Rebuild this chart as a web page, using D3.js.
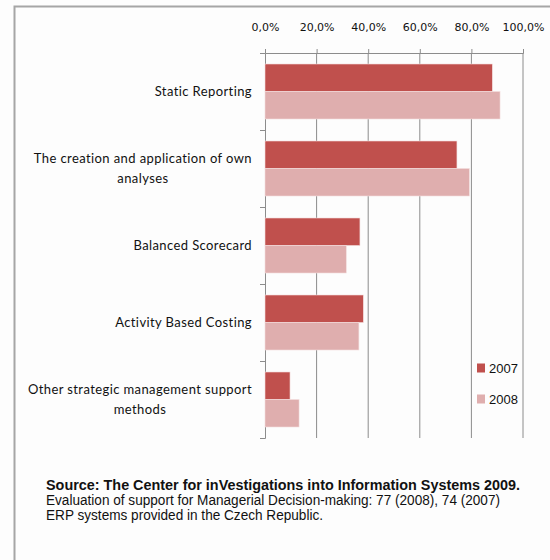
<!DOCTYPE html>
<html lang="en">
<head>
  <meta charset="UTF-8">
  <title>Support for Managerial Decision-making</title>
  <script src="https://d3js.org/d3.v7.min.js"></script>
  <style type="text/css">
    body { margin: 0; background: #fdfdfd; }
    text { font-family: Lato, "Open Sans", sans-serif; fill: #111; }
    .tick text { font-family: "DejaVu Sans", sans-serif; font-size: 11px; }
    .foot text { font-family: "Liberation Sans", Arial, sans-serif; }
  </style>
</head>
<body>
<div id="chart"></div>
<script>
// data
const categories = [
  ["Static Reporting"],
  ["The creation and application of own", "analyses"],
  ["Balanced Scorecard"],
  ["Activity Based Costing"],
  ["Other strategic management  support", "methods"]
];
const series = ["2007", "2008"];
const values2007 = [88.1, 74.4, 36.8, 38.1, 9.7];
const values2008 = [91.1, 79.2, 31.5, 36.4, 13.2];
const tickValues = [0, 20, 40, 60, 80, 100];
const footer = [
  "Source: The Center for inVestigations into Information Systems 2009.",
  "Evaluation of support for Managerial Decision-making: 77 (2008), 74 (2007)",
  "ERP systems provided in the Czech  Republic."
];

const colors = ["#c0504d", "#dfaeae"];

const svg = d3.select("#chart")
  .append("svg")
  .attr("width", 550)
  .attr("height", 560);

// frame
svg.append("path")
  .attr("d", "M14.5,560 V6.5 H550")
  .attr("fill", "none")
  .attr("stroke", "#a6a6a6")
  .attr("stroke-width", 2);

var xScale = d3.scaleLinear().domain([0, 100]).range([265, 523]);

var yScale = d3.scaleBand()
  .domain(d3.range(categories.length))
  .range([53, 438]);

var inner = d3.scaleBand()
  .domain(series)
  .range([0, yScale.bandwidth()])
  .paddingOuter(0.4)
  .paddingInner(0);

// grid lines
svg.append("g")
  .selectAll("line")
  .data(tickValues.slice(1))
  .enter()
  .append("line")
  .attr("x1", d => xScale(d)).attr("x2", d => xScale(d))
  .attr("y1", 53).attr("y2", 438)
  .attr("stroke", "#8c8c8c");

// x axis on top
const xAxis = d3.axisTop(xScale)
  .tickValues(tickValues)
  .tickSize(4)
  .tickPadding(18)
  .tickFormat(d => d3.format(".1f")(d).replace(".", ",") + "%");

svg.append("g")
  .attr("transform", "translate(0,53)")
  .call(xAxis)
  .call(g => g.select(".domain").attr("stroke", "#8c8c8c"))
  .call(g => g.selectAll(".tick line").attr("stroke", "#8c8c8c"))
  .call(g => g.selectAll(".tick text").attr("fill", "#111"));

// y axis line and category ticks
const yAxis = d3.axisLeft(d3.scaleLinear().domain([0, categories.length]).range([53, 438]))
  .ticks(categories.length)
  .tickSize(5)
  .tickFormat("");

svg.append("g")
  .attr("transform", "translate(265,0)")
  .call(yAxis)
  .call(g => g.select(".domain").attr("stroke", "#8c8c8c"))
  .call(g => g.selectAll(".tick line").attr("stroke", "#8c8c8c"));

// bars
const allValues = [values2007, values2008];
series.forEach((s, si) => {
  svg.append("g")
    .selectAll("rect")
    .data(allValues[si])
    .enter()
    .append("rect")
    .attr("x", xScale(0))
    .attr("y", (d, i) => yScale(i) + inner(s))
    .attr("width", d => xScale(d) - xScale(0))
    .attr("height", inner.bandwidth())
    .attr("fill", colors[si])
    .attr("stroke", "#f3dede")
    .attr("stroke-width", 0.6);
});

// category labels (block right aligned, lines centered)
categories.forEach((lines, i) => {
  const g = svg.append("g");
  const cy = yScale(i) + yScale.bandwidth() / 2;
  const texts = lines.map((t, k) => g.append("text")
    .attr("y", cy + (k - (lines.length - 1) / 2) * 20)
    .attr("dy", "0.35em")
    .attr("text-anchor", "middle")
    .style("font-size", "13px")
    .style("letter-spacing", "0.4px")
    .text(t));
  const w = d3.max(texts, t => t.node().getComputedTextLength());
  texts.forEach(t => t.attr("x", 252 - w / 2));
});

// legend
series.forEach((s, i) => {
  const ly = 368 + i * 31;
  svg.append("rect")
    .attr("x", 477).attr("y", ly - 4.5)
    .attr("width", 8).attr("height", 9)
    .attr("fill", colors[i]);
  svg.append("text")
    .attr("x", 489).attr("y", ly)
    .attr("dy", "0.35em")
    .style("font-family", "'Liberation Sans', Arial, sans-serif")
    .style("font-size", "13px")
    .text(s);
});

// footer
const foot = svg.append("g").attr("class", "foot");
const footWidths = [474, 454, 277];
footer.forEach((t, i) => {
  foot.append("text")
    .attr("x", 46)
    .attr("y", 490 + i * 15)
    .attr("textLength", footWidths[i])
    .attr("lengthAdjust", "spacingAndGlyphs")
    .style("font-size", "14px")
    .style("font-weight", i === 0 ? "bold" : "normal")
    .text(t);
});
</script>
</body>
</html>
